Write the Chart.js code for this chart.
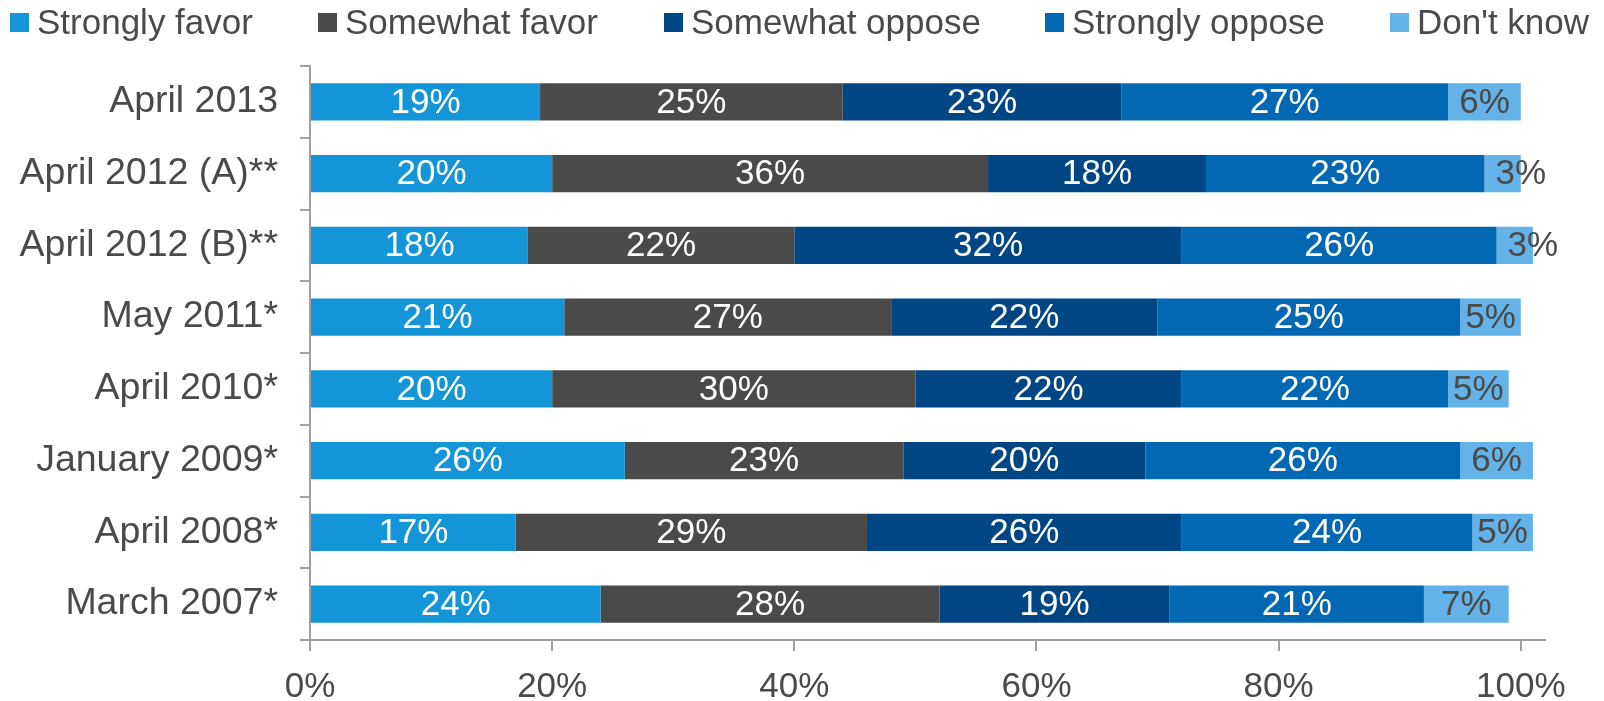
<!DOCTYPE html>
<html>
<head>
<meta charset="utf-8">
<script src="https://cdn.jsdelivr.net/npm/chart.js@4"></script>
<style>
  html, body { margin: 0; padding: 0; background: #ffffff; }
  #wrap { position: relative; width: 1604px; height: 701px; }
  #legend {
    position: absolute; left: 0; top: 0; width: 1604px; height: 44px;
    font-family: "Liberation Sans", Arial, sans-serif;
    font-size: 35px; color: #4a4a4a;
  }
  .item { position: absolute; top: 0; height: 44px; display: flex; align-items: center; white-space: nowrap; }
  .box { width: 19px; height: 19px; margin-right: 8px; }
  canvas { position: absolute; left: 0; top: 0; }
</style>
</head>
<body>
<div id="wrap">
  <canvas id="chart" width="1604" height="701"></canvas>
  <div id="legend"></div>
</div>
<script>
// Survey waves, top to bottom
const categories = ['April 2013', 'April 2012 (A)**', 'April 2012 (B)**', 'May 2011*',
                    'April 2010*', 'January 2009*', 'April 2008*', 'March 2007*'];

// Share of respondents per answer (%)
const stronglyFavor  = [19, 20, 18, 21, 20, 26, 17, 24];
const somewhatFavor  = [25, 36, 22, 27, 30, 23, 29, 28];
const somewhatOppose = [23, 18, 32, 22, 22, 20, 26, 19];
const stronglyOppose = [27, 23, 26, 25, 22, 26, 24, 21];
const dontKnow       = [6, 3, 3, 5, 5, 6, 5, 7];

const seriesNames = ['Strongly favor', 'Somewhat favor', 'Somewhat oppose', 'Strongly oppose', "Don't know"];
const xTicks = [0, 20, 40, 60, 80, 100];

const colors = ['#1495d8', '#4a4a4a', '#004584', '#0368b3', '#63b2e8'];
const labelColors = ['#ffffff', '#ffffff', '#ffffff', '#ffffff', '#4a4a4a'];
const FONT = '"Liberation Sans", Arial, sans-serif';
const TEXT = '#4a4a4a';
const AXIS = '#a0a0a0';

// Left edge of each legend entry across the top strip
const legendLeft = [10, 318, 664, 1045, 1390];

const seriesValues = [stronglyFavor, somewhatFavor, somewhatOppose, stronglyOppose, dontKnow];

// Legend
const legendEl = document.getElementById('legend');
seriesNames.forEach((name, i) => {
  const item = document.createElement('div');
  item.className = 'item';
  item.style.left = legendLeft[i] + 'px';
  const box = document.createElement('span');
  box.className = 'box';
  box.style.background = colors[i];
  const txt = document.createElement('span');
  txt.textContent = name;
  item.appendChild(box);
  item.appendChild(txt);
  legendEl.appendChild(item);
});

// Percent labels on each segment; labels wider than their segment sit on its end
const segmentLabels = {
  id: 'segmentLabels',
  afterDatasetsDraw(chart) {
    const ctx = chart.ctx;
    ctx.save();
    ctx.font = '35px ' + FONT;
    ctx.textAlign = 'center';
    ctx.textBaseline = 'middle';
    chart.data.datasets.forEach((ds, di) => {
      const meta = chart.getDatasetMeta(di);
      ctx.fillStyle = labelColors[di];
      meta.data.forEach((bar, i) => {
        const text = ds.data[i] + '%';
        const segW = Math.abs(bar.x - bar.base);
        const tw = ctx.measureText(text).width;
        const cx = tw > segW ? bar.x : (bar.x + bar.base) / 2;
        ctx.fillText(text, cx, bar.y + 1);
      });
    });
    ctx.restore();
  }
};

new Chart(document.getElementById('chart'), {
  type: 'bar',
  data: {
    labels: categories,
    datasets: seriesNames.map((name, i) => ({
      label: name,
      data: seriesValues[i],
      backgroundColor: colors[i],
      borderWidth: 0,
      barPercentage: 0.52,
      categoryPercentage: 1.0
    }))
  },
  options: {
    indexAxis: 'y',
    responsive: false,
    animation: false,
    devicePixelRatio: 1,
    layout: { padding: { top: 66, right: 59, left: 0, bottom: 0 } },
    plugins: { legend: { display: false }, tooltip: { enabled: false } },
    scales: {
      x: {
        stacked: true,
        min: 0,
        max: 102,
        afterBuildTicks(scale) { scale.ticks = xTicks.map(v => ({ value: v })); },
        afterFit(scale) { scale.height = 61; },
        grid: { drawOnChartArea: false, drawTicks: true, tickLength: 11, color: AXIS, lineWidth: 2 },
        border: { display: true, color: AXIS, width: 2 },
        ticks: {
          callback: v => v + '%',
          color: TEXT,
          font: { family: FONT, size: 35 },
          padding: 15,
          maxRotation: 0
        }
      },
      y: {
        stacked: true,
        afterFit(scale) { scale.width = 310; },
        grid: { drawOnChartArea: false, offset: true, tickLength: 10, color: AXIS, lineWidth: 2 },
        border: { display: true, color: AXIS, width: 2 },
        ticks: {
          color: TEXT,
          font: { family: FONT, size: 37.5 },
          padding: 22
        }
      }
    }
  },
  plugins: [segmentLabels]
});
</script>
</body>
</html>
